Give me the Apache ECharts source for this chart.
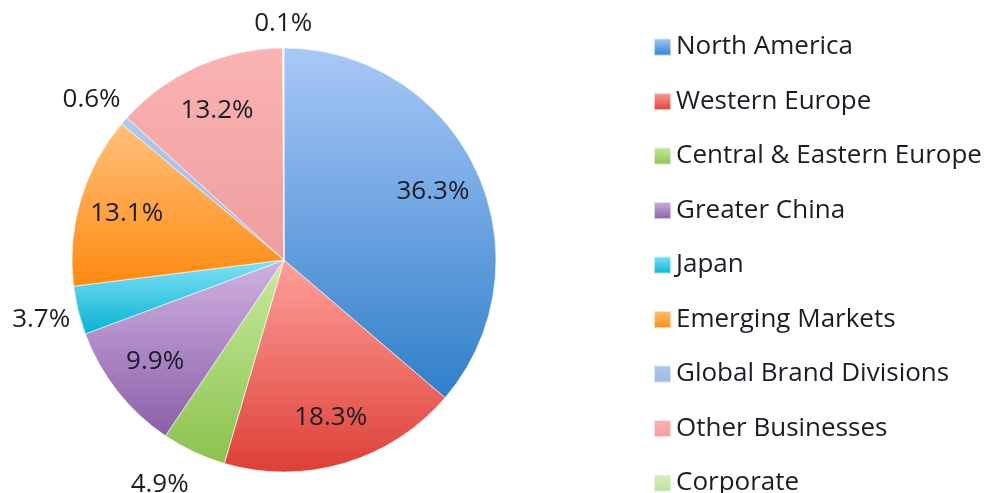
<!DOCTYPE html>
<html>
<head>
<meta charset="utf-8">
<script src="https://cdn.jsdelivr.net/npm/echarts@6/dist/echarts.min.js"></script>
<style>
  html, body { margin: 0; padding: 0; background: #fff; }
  #chart { width: 987px; height: 493px; }
</style>
</head>
<body>
<div id="chart"></div>
<script>
// regions and share of revenue (%)
const regions = [
  "North America",
  "Western Europe",
  "Central & Eastern Europe",
  "Greater China",
  "Japan",
  "Emerging Markets",
  "Global Brand Divisions",
  "Other Businesses",
  "Corporate"
];
const shares = [36.3, 18.3, 4.9, 9.9, 3.7, 13.1, 0.6, 13.2, 0.1];

// gradient colours, top -> bottom
const colorTop = ["#a9c8f7", "#ffa09b", "#c8ea9e", "#cfb2e2", "#82e2f6", "#ffc07c", "#aec8ee", "#fbb3b3", "#d9f1c2"];
const colorBottom = ["#2f7fc9", "#dc4037", "#8cc24e", "#8a5ea8", "#08b2d3", "#ff8a10", "#9db8e4", "#ee9e9e", "#b9e09b"];

const font = "Open Sans";
const textColor = "#1c1c26";

function grad(i) {
  return new echarts.graphic.LinearGradient(0, 0, 0, 1, [
    { offset: 0, color: colorTop[i] },
    { offset: 1, color: colorBottom[i] }
  ]);
}

const center = [284, 260];
const R = 212;

let chart = echarts.init(document.getElementById("chart"));

let labelStyle = {
  position: "inside",
  formatter: "{c}%",
  fontSize: 26,
  fontFamily: font,
  color: textColor
};

let option = {
  animation: false,
  legend: {
    orient: "vertical",
    left: 653,
    top: 34,
    height: 500,
    padding: 0,
    itemWidth: 17,
    itemHeight: 17,
    itemGap: 28.5,
    icon: "rect",
    data: regions,
    textStyle: { fontSize: 26, fontFamily: font, color: textColor }
  },
  series: [
    {
      // the pie itself
      type: "pie",
      center: center,
      radius: R,
      silent: true,
      label: { show: false },
      labelLine: { show: false },
      itemStyle: { borderColor: "rgba(255,255,255,0.6)", borderWidth: 1 },
      data: regions.map((n, i) => ({ name: n, value: shares[i], itemStyle: { color: grad(i) } }))
    },
    {
      // labels inside the big slices
      type: "pie",
      center: center,
      radius: [110, R],
      silent: true,
      itemStyle: { color: "rgba(0,0,0,0)" },
      labelLine: { show: false },
      data: regions.map((n, i) => ({
        name: n,
        value: shares[i],
        label: Object.assign({ show: shares[i] >= 5 }, labelStyle)
      }))
    },
    {
      // labels outside the small slices
      type: "pie",
      center: center,
      radius: [R, 282],
      silent: true,
      itemStyle: { color: "rgba(0,0,0,0)" },
      labelLine: { show: false },
      labelLayout: function (p) {
        // small nudges so the outer labels sit like the original
        if (p.dataIndex === 8) return { dy: 14 };
        if (p.dataIndex === 2) return { dx: -18, dy: -2 };
        if (p.dataIndex === 6) return { dx: -4, dy: 4 };
        return {};
      },
      data: regions.map((n, i) => ({
        name: n,
        value: shares[i],
        label: Object.assign({ show: shares[i] < 5 }, labelStyle)
      }))
    }
  ]
};

chart.setOption(option);
</script>
</body>
</html>
